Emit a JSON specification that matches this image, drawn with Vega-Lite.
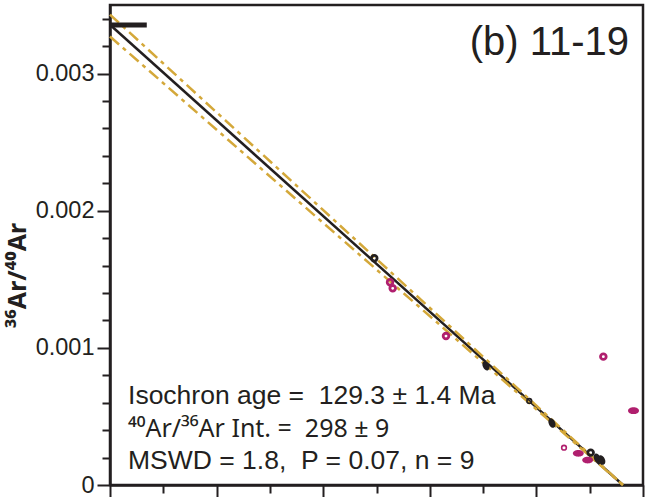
{
  "$schema": "https://vega.github.io/schema/vega-lite/v6.json",
  "width": 533,
  "height": 480,
  "autosize": "none",
  "padding": {"left": 110, "top": 5, "right": 13, "bottom": 12},
  "background": "white",
  "config": {
    "view": {"stroke": "#231F20", "strokeWidth": 2.5},
    "font": "Liberation Sans",
    "text": {"font": "Liberation Sans", "color": "#231F20"}
  },
  "resolve": {"axis": {"y": "independent"}},
  "datasets": {
    "lines": [
      {"series": "isochron", "x": 0, "y": 0.003356},
      {"series": "isochron", "x": 0.04812, "y": 0},
      {"series": "upper", "x": 0, "y": 0.00343},
      {"series": "upper", "x": 0.04812, "y": 0},
      {"series": "lower", "x": 0, "y": 0.00327},
      {"series": "lower", "x": 0.04812, "y": 0}
    ],
    "atm": [{"x": 0, "x2": 0.00345, "y": 0.003355}],
    "points": [
      {"x": 0.02479, "y": 0.001653, "g": "included", "m": "open"},
      {"x": 0.02627, "y": 0.001478, "g": "excluded", "m": "open"},
      {"x": 0.02652, "y": 0.001434, "g": "excluded", "m": "open"},
      {"x": 0.03152, "y": 0.001086, "g": "excluded", "m": "open"},
      {"x": 0.03527, "y": 0.00087, "g": "included", "m": "filled"},
      {"x": 0.03933, "y": 0.000613, "g": "included", "m": "small"},
      {"x": 0.04146, "y": 0.000452, "g": "included", "m": "filled"},
      {"x": 0.04628, "y": 0.000936, "g": "excluded", "m": "open"},
      {"x": 0.04911, "y": 0.000542, "g": "excluded", "m": "filled"},
      {"x": 0.04259, "y": 0.000272, "g": "excluded", "m": "small"},
      {"x": 0.04393, "y": 0.000231, "g": "excluded", "m": "filled"},
      {"x": 0.04481, "y": 0.000182, "g": "excluded", "m": "filled"},
      {"x": 0.04509, "y": 0.000236, "g": "included", "m": "open"},
      {"x": 0.04571, "y": 0.000195, "g": "included", "m": "filled"},
      {"x": 0.04613, "y": 0.000182, "g": "included", "m": "filled"}
    ],
    "labels": [
      {"kind": "stats", "x": 0.00169, "y": 0.000591, "text": "Isochron age =\u00a0 129.3 ± 1.4 Ma"},
      {"kind": "ratio", "x": 0.00169, "y": 0.00035, "text": "⁴⁰Ar/³⁶Ar Int. =\u00a0 298 ± 9"},
      {"kind": "stats", "x": 0.00169, "y": 0.000117, "text": "MSWD = 1.8,\u00a0 P = 0.07, n = 9"},
      {"kind": "panel", "x": 0.04869, "y": 0.00322, "text": "(b) 11-19"}
    ]
  },
  "layer": [
    {
      "data": {"name": "lines"},
      "transform": [{"filter": "datum.series === 'isochron'"}],
      "mark": {"type": "line", "color": "#231F20", "strokeWidth": 2.5},
      "encoding": {
        "x": {
          "field": "x", "type": "quantitative",
          "scale": {"domain": [0, 0.05], "nice": false, "zero": false},
          "axis": {
            "values": [0, 0.005, 0.01, 0.015, 0.02, 0.025, 0.03, 0.035, 0.04, 0.045, 0.05],
            "labels": false, "title": null, "grid": false,
            "domain": true, "domainColor": "#231F20", "domainWidth": 2.5,
            "tickColor": "#231F20", "tickWidth": 2,
            "tickSize": {"condition": {"test": "round(datum.value*1000) % 10 === 0", "value": 13}, "value": 8}
          }
        },
        "y": {
          "field": "y", "type": "quantitative",
          "scale": {"domain": [0, 0.0035], "nice": false, "zero": false},
          "axis": {
            "orient": "left",
            "values": [0, 0.001, 0.002, 0.003],
            "labelExpr": "datum.value === 0 ? '0' : format(datum.value, '.3f')",
            "labelOverlap": false, "labelFlush": false,
            "labelFont": "Liberation Sans", "labelFontSize": 23.5, "labelColor": "#231F20", "labelPadding": 3,
            "grid": false,
            "domain": true, "domainColor": "#231F20", "domainWidth": 2.5,
            "tickColor": "#231F20", "tickWidth": 2, "tickSize": 13,
            "title": "³⁶Ar/⁴⁰Ar",
            "titleFont": "Noto Sans", "titleFontSize": 25, "titleFontWeight": "bold", "titleColor": "#231F20",
            "titlePadding": 5, "titleY": 270
          }
        }
      }
    },
    {
      "data": {"name": "lines"},
      "transform": [{"filter": "datum.series !== 'isochron'"}],
      "mark": {"type": "line", "color": "#D4A83A", "strokeWidth": 2.5, "strokeDash": [12, 5, 4, 5]},
      "encoding": {
        "x": {"field": "x", "type": "quantitative"},
        "y": {
          "field": "y", "type": "quantitative",
          "axis": {
            "orient": "left",
            "values": [0.0002, 0.0004, 0.0006, 0.0008, 0.0012, 0.0014, 0.0016, 0.0018, 0.0022, 0.0024, 0.0026, 0.0028, 0.0032, 0.0034],
            "labels": false, "title": null, "grid": false, "domain": false,
            "tickColor": "#231F20", "tickWidth": 2, "tickSize": 8
          }
        },
        "detail": {"field": "series"}
      }
    },
    {
      "data": {"name": "atm"},
      "mark": {"type": "rule", "color": "#231F20", "strokeWidth": 5},
      "encoding": {
        "x": {"field": "x", "type": "quantitative"},
        "x2": {"field": "x2"},
        "y": {"field": "y", "type": "quantitative", "axis": null}
      }
    },
    {
      "data": {"name": "points"},
      "transform": [{"filter": "datum.m === 'open'"}],
      "mark": {"type": "point", "filled": false, "shape": "circle", "size": 32, "strokeWidth": 2.8, "opacity": 1},
      "encoding": {
        "x": {"field": "x", "type": "quantitative"},
        "y": {"field": "y", "type": "quantitative", "axis": null},
        "color": {"field": "g", "type": "nominal", "scale": {"domain": ["included", "excluded"], "range": ["#231F20", "#B01F6E"]}, "legend": null}
      }
    },
    {
      "data": {"name": "points"},
      "transform": [{"filter": "datum.m === 'small'"}],
      "mark": {"type": "point", "filled": false, "shape": "circle", "size": 22, "strokeWidth": 1.6, "opacity": 1},
      "encoding": {
        "x": {"field": "x", "type": "quantitative"},
        "y": {"field": "y", "type": "quantitative", "axis": null},
        "color": {"field": "g", "type": "nominal", "legend": null}
      }
    },
    {
      "data": {"name": "points"},
      "transform": [{"filter": "datum.m === 'filled' && datum.g === 'excluded'"}],
      "mark": {"type": "point", "filled": true, "shape": "M-1,0A1,0.62,0,1,0,1,0A1,0.62,0,1,0,-1,0Z", "size": 120, "opacity": 1},
      "encoding": {
        "x": {"field": "x", "type": "quantitative"},
        "y": {"field": "y", "type": "quantitative", "axis": null},
        "color": {"field": "g", "type": "nominal", "legend": null}
      }
    },
    {
      "data": {"name": "points"},
      "transform": [{"filter": "datum.m === 'filled' && datum.g === 'included'"}],
      "mark": {"type": "point", "filled": true, "shape": "M-1,0A1,0.65,0,1,0,1,0A1,0.65,0,1,0,-1,0Z", "size": 100, "angle": 65, "opacity": 1},
      "encoding": {
        "x": {"field": "x", "type": "quantitative"},
        "y": {"field": "y", "type": "quantitative", "axis": null},
        "color": {"field": "g", "type": "nominal", "legend": null}
      }
    },
    {
      "data": {"name": "labels"},
      "transform": [{"filter": "datum.kind === 'stats'"}],
      "mark": {"type": "text", "align": "left", "baseline": "alphabetic", "fontSize": 26.5, "color": "#231F20"},
      "encoding": {
        "x": {"field": "x", "type": "quantitative"},
        "y": {"field": "y", "type": "quantitative", "axis": null},
        "text": {"field": "text"}
      }
    },
    {
      "data": {"name": "labels"},
      "transform": [{"filter": "datum.kind === 'ratio'"}],
      "mark": {"type": "text", "align": "left", "baseline": "alphabetic", "fontSize": 25, "font": "Noto Sans", "color": "#231F20"},
      "encoding": {
        "x": {"field": "x", "type": "quantitative"},
        "y": {"field": "y", "type": "quantitative", "axis": null},
        "text": {"field": "text"}
      }
    },
    {
      "data": {"name": "labels"},
      "transform": [{"filter": "datum.kind === 'panel'"}],
      "mark": {"type": "text", "align": "right", "baseline": "middle", "fontSize": 40, "color": "#231F20"},
      "encoding": {
        "x": {"field": "x", "type": "quantitative"},
        "y": {"field": "y", "type": "quantitative", "axis": null},
        "text": {"field": "text"}
      }
    }
  ]
}
